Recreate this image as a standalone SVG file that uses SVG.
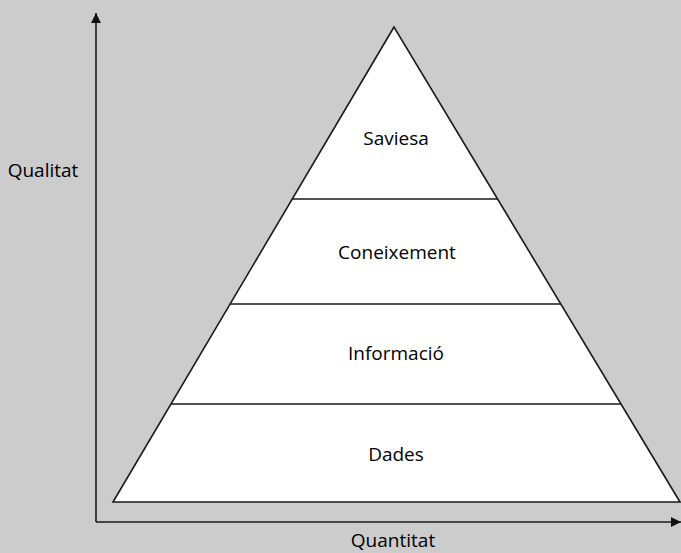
<svg xmlns="http://www.w3.org/2000/svg" width="681" height="553" viewBox="0 0 681 553">
<style>
.ln{stroke:#1a1a1a;stroke-width:1.6;fill:none}
.t{font-family:"Open Sans","Liberation Sans",sans-serif;font-size:19px;fill:#000;text-anchor:middle}
</style>
<defs>
<marker id="ah" viewBox="0 0 10 10" refX="10" refY="5" markerWidth="10" markerHeight="10" markerUnits="userSpaceOnUse" orient="auto">
<path d="M0,0 L10,5 L0,10 Z" fill="#111"/>
</marker>
</defs>
<rect width="681" height="553" fill="#cccccc"/>
<g id="pyramid">
<polygon points="394,27 113,502 680,502" fill="#ffffff" stroke="#1a1a1a" stroke-width="1.6"/>
</g>
<g id="connectors">
<line class="ln" x1="96" y1="522" x2="96" y2="13" marker-end="url(#ah)"/>
<line class="ln" x1="96" y1="522" x2="681" y2="522" marker-end="url(#ah)"/>
<line class="ln" x1="292" y1="199" x2="497" y2="199"/>
<line class="ln" x1="230" y1="304" x2="561" y2="304"/>
<line class="ln" x1="171" y1="404" x2="621" y2="404"/>
</g>
<g id="saviesa"><text class="t" x="396" y="145">Saviesa</text></g>
<g id="coneixement"><text class="t" x="397" y="259">Coneixement</text></g>
<g id="informacio"><text class="t" x="396" y="360">Informació</text></g>
<g id="dades"><text class="t" x="396" y="461">Dades</text></g>
<g id="qualitat"><text class="t" x="43" y="177">Qualitat</text></g>
<g id="quantitat"><text class="t" x="393" y="547">Quantitat</text></g>
</svg>
